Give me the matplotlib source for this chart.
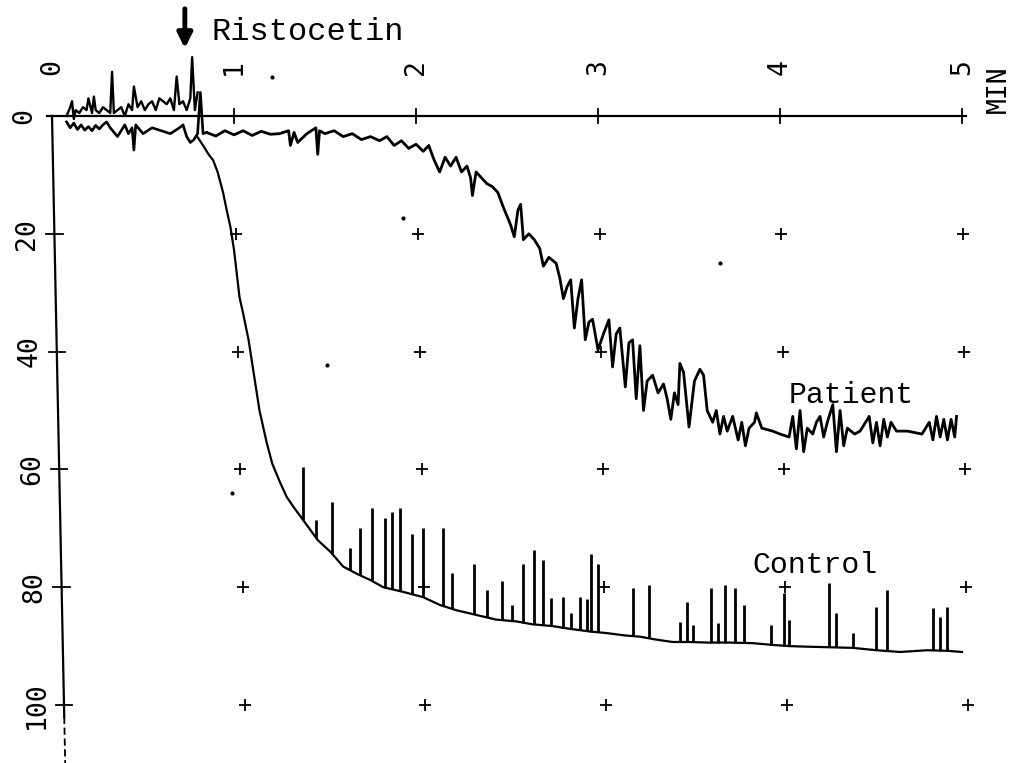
import numpy as np
import matplotlib
matplotlib.use("Agg")
import matplotlib.pyplot as plt

# ---------------- data ----------------
x_ticks = [0, 1, 2, 3, 4, 5]
x_tick_labels = ["0", "1", "2", "3", "4", "5"]
y_ticks = [0, 20, 40, 60, 80, 100]
y_tick_labels = ["0", "20", "40", "60", "80", "100"]
ristocetin_time = 0.73

# pre-ristocetin noisy baseline, upper trace (continues as Control)
base_up_t = [0.08, 0.10, 0.11, 0.12, 0.13, 0.15, 0.17, 0.19, 0.20, 0.22, 0.23, 0.24, 0.26,
             0.28, 0.30, 0.32, 0.33, 0.34, 0.36, 0.38, 0.40, 0.42, 0.44, 0.45, 0.47, 0.49,
             0.51, 0.53, 0.55, 0.57, 0.59, 0.61, 0.63, 0.65, 0.67, 0.685, 0.70, 0.72, 0.74,
             0.76, 0.77, 0.785, 0.80]
base_up_v = [0, -1.5, -2.5, 0.5, -1, -0.5, -1.5, -1, -3, -0.5, -3.3, -1, -0.5,
             -1.5, -1, -0.5, -7.5, -0.5, -1, -1.5, 0, -2, -1, -5, -1.5, -2.5,
             -1, -2, -2.5, -1, -3, -2.5, -2, -3, -1, -6.7, -2, -2.5, -1,
             -3, -10, -1, -4]

# pre-ristocetin baseline, lower trace (continues as Patient)
base_lo_t = [0.08, 0.10, 0.12, 0.14, 0.16, 0.18, 0.20, 0.22, 0.24, 0.26, 0.28, 0.30, 0.32,
             0.36, 0.40, 0.42, 0.44, 0.45, 0.46, 0.50, 0.55, 0.60, 0.65, 0.70, 0.72, 0.74,
             0.76, 0.78, 0.80, 0.815, 0.83, 0.85]
base_lo_v = [1, 2, 1.2, 2.3, 1.5, 2.4, 1.8, 2.5, 1.6, 2.2, 1.5, 1.0, 2.0,
             3.5, 1.5, 3.0, 2.0, 5.8, 1.5, 3.0, 2.0, 2.5, 3.0, 2.0, 1.5, 3.5,
             4.5, 4.0, 3.0, -4.0, 3.0, 2.8]

patient_t = [0.85, 0.90, 0.95, 1.00, 1.05, 1.10, 1.15, 1.20, 1.25, 1.30, 1.31, 1.33, 1.35,
             1.40, 1.45, 1.46, 1.47, 1.50, 1.55, 1.60, 1.65, 1.70, 1.75, 1.80, 1.84, 1.88,
             1.92, 1.96, 2.00, 2.04, 2.07, 2.10, 2.13, 2.16, 2.19, 2.22, 2.25, 2.28, 2.30,
             2.31, 2.33, 2.36, 2.39, 2.42, 2.45, 2.48, 2.50, 2.52, 2.54, 2.56, 2.575, 2.59,
             2.62, 2.65, 2.68, 2.70, 2.73, 2.75, 2.77, 2.79, 2.81, 2.83, 2.85, 2.87, 2.89,
             2.91, 2.93, 2.95, 2.97, 3.00, 3.03, 3.06, 3.08, 3.10, 3.12, 3.15, 3.17, 3.19,
             3.21, 3.23, 3.25, 3.27, 3.30, 3.33, 3.36, 3.38, 3.40, 3.42, 3.44, 3.45, 3.47,
             3.50, 3.53, 3.56, 3.58, 3.60, 3.63, 3.65, 3.67, 3.69, 3.71, 3.74, 3.77, 3.79,
             3.81, 3.83, 3.86, 3.87, 3.90, 3.96, 4.00, 4.05, 4.07, 4.09, 4.11, 4.13, 4.15,
             4.18, 4.20, 4.22, 4.24, 4.26, 4.29, 4.31, 4.33, 4.35, 4.37, 4.41, 4.44, 4.49,
             4.51, 4.53, 4.55, 4.57, 4.59, 4.61, 4.64, 4.70, 4.78, 4.82, 4.84, 4.86, 4.88,
             4.90, 4.92, 4.94, 4.96, 4.97]
patient_v = [2.8, 3.4, 2.5, 3.2, 2.5, 3.3, 2.6, 3.1, 3.0, 2.5, 5.0, 2.8, 4.5,
             3.0, 2.0, 6.5, 2.5, 3.0, 2.5, 3.5, 3.0, 4.0, 3.5, 4.2, 3.5, 5.0,
             4.2, 5.5, 4.8, 6.0, 5.0, 7.5, 9.5, 7.0, 8.5, 7.0, 9.5, 8.5, 10.5,
             13.5, 9.5, 10.5, 11.5, 12.0, 13.0, 15.5, 17.0, 18.5, 20.5, 16.0, 15.0, 21.0,
             20.0, 21.0, 22.5, 25.5, 24.0, 24.5, 25.0, 27.5, 31.0, 29.0, 27.8, 36.0, 31.0,
             27.8, 38.0, 35.0, 34.5, 39.7, 37.0, 34.6, 42.6, 37.0, 36.0, 46.0, 38.5, 38.0,
             48.0, 39.0, 50.0, 45.0, 44.0, 47.0, 45.5, 48.0, 51.5, 47.0, 49.0, 42.0, 43.5,
             52.8, 45.0, 43.0, 44.0, 50.0, 52.0, 50.0, 54.0, 51.0, 53.5, 51.0, 55.0, 52.0,
             56.0, 53.0, 52.0, 50.4, 53.0, 53.5, 54.0, 54.5, 51.0, 56.5, 50.0, 57.0, 53.0,
             54.0, 52.0, 51.0, 54.5, 52.0, 49.0, 57.0, 50.0, 56.0, 53.0, 54.0, 53.5, 51.0,
             55.5, 52.0, 56.0, 51.5, 54.5, 52.0, 53.5, 53.5, 54.0, 52.0, 55.0, 51.0, 54.5,
             51.5, 55.0, 51.5, 54.5, 51.0]

control_t = [0.80, 0.83, 0.86, 0.885, 0.91, 0.94, 0.96, 0.98, 1.00, 1.03, 1.05, 1.08, 1.10,
             1.14, 1.18, 1.21, 1.25, 1.29, 1.33, 1.38, 1.46, 1.53, 1.60, 1.68, 1.75, 1.82,
             1.93, 2.04, 2.13, 2.22, 2.33, 2.44, 2.55, 2.64, 2.75, 2.83, 2.95, 3.05, 3.15,
             3.23, 3.32, 3.41, 3.50, 3.60, 3.72, 3.85, 3.96, 4.05, 4.15, 4.28, 4.40, 4.53,
             4.66, 4.81, 4.92, 5.00]
control_v = [3.6, 5.0, 6.5, 7.5, 9.5, 13.0, 16.0, 18.8, 22.7, 30.7, 33.5, 38.0, 42.0,
             50.0, 55.5, 59.0, 62.0, 64.7, 66.5, 68.6, 72.0, 74.0, 76.5, 77.8, 78.8, 80.0,
             80.8, 81.7, 83.0, 83.9, 84.7, 85.5, 85.8, 86.3, 86.6, 87.0, 87.5, 87.8, 88.2,
             88.4, 88.9, 89.3, 89.3, 89.4, 89.4, 89.5, 89.8, 90.0, 90.1, 90.2, 90.3, 90.7,
             91.0, 90.7, 90.8, 91.0]

# oscillation spikes of the control trace: time and tip value
control_spike_t = [1.38, 1.45, 1.54, 1.64, 1.69, 1.76, 1.83, 1.87, 1.91, 1.98, 2.04, 2.15,
                   2.20, 2.32, 2.39, 2.47, 2.53, 2.59, 2.65, 2.70, 2.74, 2.81, 2.85, 2.90,
                   2.94, 2.96, 3.00, 3.19, 3.28, 3.45, 3.49, 3.52, 3.62, 3.66, 3.70, 3.75,
                   3.80, 3.95, 4.02, 4.05, 4.27, 4.31, 4.40, 4.53, 4.59, 4.84, 4.88, 4.92]
control_spike_v = [59.6, 68.6, 65.5, 73.4, 70.0, 66.6, 68.2, 67.2, 66.5, 71.0, 70.0, 70.0,
                   77.6, 76.0, 80.5, 79.0, 83.0, 76.0, 73.7, 75.4, 81.8, 81.6, 84.4, 81.6,
                   82.0, 74.3, 76.0, 80.2, 79.6, 85.9, 82.5, 86.5, 80.2, 86.0, 79.6, 80.2,
                   83.0, 86.4, 81.0, 85.6, 79.3, 84.4, 87.8, 83.3, 80.5, 83.5, 85.0, 83.3]

# stray specks on the recorder paper
speck_t = [0.99, 1.21, 1.51, 1.93, 3.67]
speck_v = [64.0, -6.6, 42.3, 17.3, 25.0]

# ---------------- layout / style ----------------
PX_PER_MIN = 182.0
PX_PER_UNIT = 5.89
X0_PX, Y0_PX = 52.0, 116.0
W, H = 1011, 763
MONO = ["Liberation Mono", "DejaVu Sans Mono"]
TICKF = ["DejaVu Sans Mono"]


def skew(t, v):
    """slight tilt of the scanned paper: returns a shifted time coordinate"""
    return t + v * (0.12 - 0.013 * t) / PX_PER_MIN


fig = plt.figure(figsize=(W / 100, H / 100), dpi=100)
ax = fig.add_axes([0, 0, 1, 1])
ax.set_xlim(-X0_PX / PX_PER_MIN, (W - X0_PX) / PX_PER_MIN)
ax.set_ylim((H - Y0_PX) / PX_PER_UNIT, -Y0_PX / PX_PER_UNIT)
ax.axis("off")

k = "black"
# axes lines
ax.plot([-0.03, 5.02], [0, 0], color=k, lw=1.6)
ax.plot([skew(0, 0), skew(0, 102)], [0, 102], color=k, lw=1.6)
ax.plot([skew(0, 102), skew(0, 110)], [102, 110], color=k, lw=1.3, ls=(0, (4, 2)))

# tick marks
for t in x_ticks[1:]:
    ax.plot([t, t], [-1.2, 1.2], color=k, lw=1.3)
for v in y_ticks[1:]:
    ax.plot([skew(0, v) - 0.045, skew(0, v) + 0.045], [v, v], color=k, lw=1.3)

# grid crosses
for t in x_ticks[1:]:
    for v in y_ticks[1:]:
        ax.plot(skew(t, v), v, marker="+", ms=9, mew=1.3, color=k)

# tick labels (rotated like the plotter page)
for t, lab in zip(x_ticks, x_tick_labels):
    ax.text(t, -8.3, lab, rotation=90, ha="center", va="center",
            fontsize=19, family=TICKF, color=k)
ax.text(5.205, -4.6, "MIN", rotation=90, ha="center", va="center",
        fontsize=19, family=TICKF, color=k)
for v, lab in zip(y_ticks, y_tick_labels):
    ax.text(skew(0, v) - 0.15, v, lab, rotation=90, ha="center", va="center",
            fontsize=19, family=TICKF, color=k)

# traces
ax.plot(base_up_t, base_up_v, color=k, lw=1.7)
ax.plot(base_lo_t, base_lo_v, color=k, lw=1.9)
ax.plot(patient_t, patient_v, color=k, lw=2.0)
ax.plot(control_t, control_v, color=k, lw=1.6)
ctrl_base = np.interp(control_spike_t, control_t, control_v)
ax.vlines(control_spike_t, control_spike_v, ctrl_base, color=k, lw=2.0)
ax.plot(speck_t, speck_v, ls="none", marker="o", ms=2, color=k)

# annotations
ax.annotate("", xy=(ristocetin_time, -11.5), xytext=(ristocetin_time, -18.2),
            arrowprops=dict(arrowstyle="-|>", lw=3.5, color=k, mutation_scale=22,
                            shrinkA=0, shrinkB=0))
ax.text(0.879, -12.9, "Ristocetin", ha="left", va="baseline", fontsize=23,
        family=MONO, color=k)
ax.text(4.39, 47.4, "Patient", ha="center", va="center", fontsize=21.5,
        family=MONO, color=k)
ax.text(4.19, 76.2, "Control", ha="center", va="center", fontsize=21.5,
        family=MONO, color=k)

fig.savefig("out.png", dpi=100)
